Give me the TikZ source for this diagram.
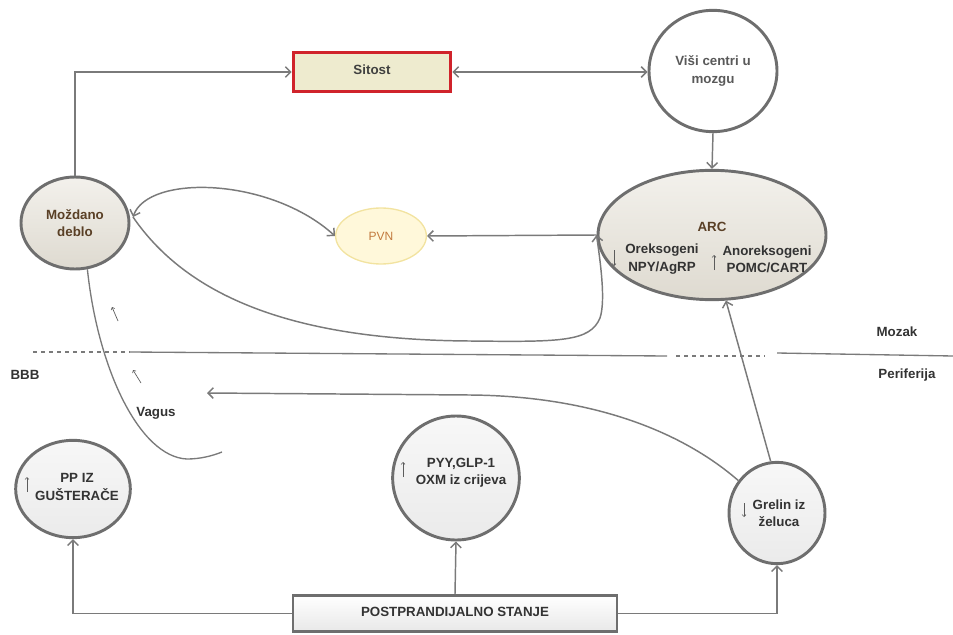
\documentclass[tikz,border=0pt]{standalone}
\usepackage{fontspec}
\setmainfont{Liberation Sans}
\usetikzlibrary{shapes.geometric,arrows.meta}
\definecolor{linegray}{HTML}{7A7A7A}
\definecolor{bordgray}{HTML}{6E6E6E}
\definecolor{txtgray}{HTML}{333333}
\definecolor{brownt}{HTML}{5A4026}
\definecolor{sitred}{HTML}{D0232B}
\definecolor{sitfill}{HTML}{EEEBCF}
\definecolor{pvnfill}{HTML}{FFF8DA}
\definecolor{pvnbord}{HTML}{F2E3A0}
\definecolor{pvntext}{HTML}{C27A3E}
\definecolor{beigetop}{HTML}{F3F1EC}
\definecolor{beigebot}{HTML}{DEDAD0}
\tikzset{
  conn/.style={draw=linegray, line width=1.1pt},
  tip/.style={-{Straight Barb[length=4pt,width=8pt,line width=1.1pt]}},
  tips/.style={{Straight Barb[length=4pt,width=8pt,line width=1.1pt]}-{Straight Barb[length=4pt,width=8pt,line width=1.1pt]}},
  smallarr/.style={draw=txtgray!80, line width=0.5pt, -{Straight Barb[length=1.5pt,width=3pt,line width=0.5pt]}},
  lbl/.style={font=\fontsize{10}{12}\selectfont\bfseries, text=txtgray, align=center, inner sep=0pt},
  bubble/.style={ellipse, draw=bordgray, line width=2.2pt, inner sep=0pt, top color=white!94!gray, bottom color=white!84!gray},
  beige/.style={ellipse, draw=bordgray, line width=2.2pt, inner sep=0pt, top color=beigetop, bottom color=beigebot}
}
\begin{document}
\begin{tikzpicture}[x=0.75pt,y=-0.75pt]
\useasboundingbox (0,0) rectangle (953,635);
% nodes
\node[rectangle, draw=sitred, line width=2.4pt, fill=sitfill, minimum width=118pt, minimum height=29pt, inner sep=0pt] (sit) at (372,72) {};
\node[lbl, text=black!75] (sitt) at (372,70) {Sitost};
\node[ellipse, draw=bordgray, line width=2.2pt, fill=white, minimum width=96pt, minimum height=91pt, inner sep=0pt] (visi) at (713,71) {};
\node[lbl, text=black!65] (visit) at (713,71) {Viši centri u\\[1pt]mozgu};
\node[beige, minimum width=171pt, minimum height=97pt] (arc) at (712,235) {};
\node[lbl, text=brownt] (arct) at (712,227) {ARC};
\node[lbl] (orek) at (662,259) {Oreksogeni\\[1pt]NPY/AgRP};
\node[lbl] (anor) at (767,259) {Anoreksogeni\\[1pt]POMC/CART};
\node[ellipse, draw=pvnbord, line width=1pt, fill=pvnfill, minimum width=68pt, minimum height=42pt, inner sep=0pt] (pvn) at (381,236) {};
\node[font=\fontsize{9}{10}\selectfont, text=pvntext, inner sep=0pt] (pvnt) at (381,236) {PVN};
\node[beige, minimum width=81pt, minimum height=69pt] (moz) at (75,223) {};
\node[lbl, text=brownt] (mozt) at (75,223) {Moždano\\[1pt]deblo};
\node[bubble, minimum width=86pt, minimum height=73pt] (pp) at (73,489) {};
\node[lbl] (ppt) at (77,487) {PP IZ\\[1pt]GUŠTERAČE};
\node[bubble, minimum width=95pt, minimum height=93pt] (pyy) at (456,478) {};
\node[lbl] (pyyt) at (461,473) {PYY,GLP-1\\[1pt]OXM iz crijeva};
\node[bubble, minimum width=72pt, minimum height=76pt] (gre) at (777,513) {};
\node[lbl] (gret) at (779,513) {Grelin iz\\[1pt]želuca};
\node[rectangle, draw=bordgray, line width=2.2pt, top color=white, bottom color=white!82!gray, minimum width=243pt, minimum height=27pt, inner sep=0pt] (post) at (455,613.5) {};
\node[lbl] (postt) at (455,612) {POSTPRANDIJALNO STANJE};
% small arrows inside nodes
\draw[smallarr] (614,250) -- (614,266);
\draw[smallarr] (714,270) -- (714,255);
\draw[smallarr] (27,492) -- (27,477);
\draw[smallarr] (403,477) -- (403,462);
\draw[smallarr] (744,503) -- (744,517);
% side labels
\node[lbl] (bbb) at (25,375) {BBB};
\node[lbl] (mozak) at (897,332) {Mozak};
\node[lbl] (perif) at (907,375) {Periferija};
\node[lbl] (vagus) at (156,413) {Vagus};
% BBB line
\coordinate (b1) at (33,352);
\coordinate (b2) at (130,352);
\coordinate (b3) at (667,356);
\coordinate (b4) at (676,356);
\coordinate (b5) at (765,356);
\coordinate (b6) at (777,353);
\coordinate (b7) at (953,356);
\draw[draw=linegray, line width=1pt, dashed] (b1) -- (b2);
\draw[draw=linegray, line width=1pt] (b2) -- (b3);
\draw[draw=linegray, line width=1pt, dashed] (b4) -- (b5);
\draw[draw=linegray, line width=1pt] (b6) -- (b7);
% connectors
\draw[conn, tip] (moz.north) |- (sit.west);
\draw[conn, tips] (sit.east) -- (sit.east -| visi.west);
\draw[conn, tip] (visi.south) -- (arc.north);
\draw[conn, tip] (arc.west) -- (pvn.east);
\coordinate (mozr) at (133,217);
\draw[conn, tips] (mozr) .. controls (148,174) and (270,177) .. (pvn.west);
\draw[conn, tip] (mozr) .. controls (190,300) and (300,340) .. (470,341) .. controls (560,342) and (590,342) .. (600,318) .. controls (606,300) and (600,260) .. (arc.west);
\coordinate (vagtip) at (207,393);
\draw[conn, tip] (gre.140) .. controls (680,430) and (590,396) .. (470,395) -- (vagtip);
\draw[conn, tip] (gre.97) -- (arc.-78);
\coordinate (vagend) at (222,452);
\draw[conn, line width=1pt] (moz.-75) .. controls (98,370) and (140,457) .. (187,459) .. controls (200,459) and (212,456) .. (vagend);
\coordinate (sa1) at (118,321);
\coordinate (sa2) at (112,307);
\coordinate (sa3) at (141,383);
\coordinate (sa4) at (133,370);
\draw[smallarr] (sa1) -- (sa2);
\draw[smallarr] (sa3) -- (sa4);
\draw[conn, tip] (post.west) -| (pp.south);
\draw[conn, tip] (post.north) -- (pyy.south);
\draw[conn, tip] (post.east) -| (gre.south);
\end{tikzpicture}
\end{document}
